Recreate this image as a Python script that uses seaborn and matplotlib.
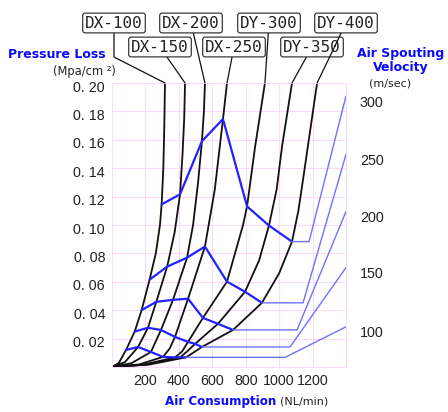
import numpy as np
import pandas as pd
import matplotlib
matplotlib.use("Agg")
import matplotlib.pyplot as plt
import matplotlib.transforms as mtransforms
import seaborn as sns

models = ["DX-100", "DX-150", "DX-200", "DX-250", "DY-300", "DY-350", "DY-400"]

# air consumption (NL/min) / pressure loss (MPa/cm2)
dx100_q = [0, 42, 84, 136, 177, 225, 262, 287, 297, 307, 313, 317]
dx100_p = [0, 0.003, 0.012, 0.025, 0.040, 0.0615, 0.080, 0.100, 0.1145, 0.140, 0.170, 0.200]
dx150_q = [0, 78, 156, 215, 265, 330, 375, 407, 422, 432, 437]
dx150_p = [0, 0.0035, 0.0141, 0.0276, 0.0459, 0.0707, 0.095, 0.1216, 0.150, 0.175, 0.200]
dx200_q = [0, 117, 233, 293, 365, 449, 485, 515, 538, 550, 556]
dx200_p = [0, 0.0027, 0.0106, 0.0261, 0.0473, 0.0770, 0.100, 0.130, 0.159, 0.180, 0.200]
dx250_q = [0, 162, 305, 345, 377, 455, 556, 615, 664, 688]
dx250_p = [0, 0.0018, 0.0071, 0.013, 0.0212, 0.0481, 0.0848, 0.125, 0.1746, 0.200]
dy300_q = [0, 190, 377, 420, 455, 544, 688, 784, 808, 856, 915]
dy300_p = [0, 0.0017, 0.0068, 0.011, 0.0177, 0.0346, 0.0601, 0.100, 0.1131, 0.155, 0.200]
dy350_q = [0, 205, 407, 450, 497, 634, 796, 880, 939, 985, 1017, 1077]
dy350_p = [0, 0.0017, 0.0068, 0.011, 0.0163, 0.0304, 0.0530, 0.075, 0.0996, 0.125, 0.155, 0.200]
dy400_q = [0, 222, 443, 538, 724, 897, 1000, 1077, 1115, 1143, 1227]
dy400_p = [0, 0.0017, 0.0068, 0.0141, 0.0261, 0.0452, 0.066, 0.0883, 0.110, 0.132, 0.200]

curve_q = [dx100_q, dx150_q, dx200_q, dx250_q, dy300_q, dy350_q, dy400_q]
curve_p = [dx100_p, dx150_p, dx200_p, dx250_p, dy300_p, dy350_p, dy400_p]

# air spouting velocity (m/sec): crossing points on the seven curves
velocities = [100, 150, 200, 250, 300]
v100_q = [84, 156, 233, 305, 377, 407, 443]
v100_p = [0.012, 0.0141, 0.0106, 0.0071, 0.0068, 0.0068, 0.0068]
v150_q = [136, 215, 293, 377, 455, 497, 538]
v150_p = [0.025, 0.0276, 0.0261, 0.0212, 0.0177, 0.0163, 0.0141]
v200_q = [177, 265, 365, 455, 544, 634, 724]
v200_p = [0.040, 0.0459, 0.0473, 0.0481, 0.0346, 0.0304, 0.0261]
v250_q = [225, 330, 449, 556, 688, 796, 897]
v250_p = [0.0615, 0.0707, 0.0770, 0.0848, 0.0601, 0.0530, 0.0452]
v300_q = [297, 407, 538, 664, 808, 939, 1077]
v300_p = [0.1145, 0.1216, 0.159, 0.1746, 0.1131, 0.0996, 0.0883]
vel_q = [v100_q, v150_q, v200_q, v250_q, v300_q]
vel_p = [v100_p, v150_p, v200_p, v250_p, v300_p]
flat_end_q = [1035, 1065, 1107, 1143, 1179]
vel_end_p = [0.0283, 0.070, 0.1095, 0.1498, 0.1908]

rows = []
for m, qs, ps in zip(models, curve_q, curve_p):
    for q, p in zip(qs, ps):
        rows.append({"model": m, "Q": q, "P": p})
curves = pd.DataFrame(rows)

sns.set_style("white")
plt.rcParams["font.family"] = ["DejaVu Sans"]

fig = plt.figure(figsize=(4.48, 4.12), dpi=100)
ax = fig.add_axes([112 / 448, 45 / 412, 234 / 448, 284 / 412])

pink = "#fad8fa"
blue = "#2222ff"
light_blue = "#7070ff"

sns.lineplot(data=curves, x="Q", y="P", units="model", estimator=None, sort=False,
             color="#111111", lw=1.3, ax=ax)

for qs, ps, fq, ep in zip(vel_q, vel_p, flat_end_q, vel_end_p):
    sns.lineplot(x=qs, y=ps, sort=False, estimator=None, color=blue, lw=1.6, ax=ax)
    sns.lineplot(x=[qs[-1], fq, 1400], y=[ps[-1], ps[-1], ep], sort=False,
                 estimator=None, color=light_blue, lw=1.0, ax=ax)

ax.set_xlim(0, 1400)
ax.set_ylim(0, 0.20)
ax.set_xticks(range(200, 1201, 200))
ax.set_yticks(np.arange(0.02, 0.201, 0.02))
ax.set_yticklabels([f"{v:.2f}".replace(".", ". ") for v in np.arange(0.02, 0.201, 0.02)])
ax.grid(True, color=pink, lw=0.7)
for s in ax.spines.values():
    s.set_color(pink)
    s.set_linewidth(0.7)
ax.tick_params(length=0, labelsize=10.3, colors="#222222", pad=5)
ax.set_xlabel("")
ax.set_ylabel("")
for lab in ax.get_yticklabels():
    lab.set_fontfamily("Liberation Sans")
    lab.set_transform(lab.get_transform() + mtransforms.ScaledTranslation(0, -3 / 100, fig.dpi_scale_trans))
for lab in ax.get_xticklabels():
    lab.set_fontfamily("Liberation Sans")

ax2 = ax.twinx()
ax2.set_ylim(0, 0.20)
ax2.set_yticks(vel_end_p)
ax2.set_yticklabels([str(v) for v in velocities])
ax2.tick_params(length=0, labelsize=10.3, colors="#222222", pad=10)
for s in ax2.spines.values():
    s.set_visible(False)
for lab in ax2.get_yticklabels():
    lab.set_fontfamily("Liberation Sans")
    lab.set_transform(lab.get_transform() + mtransforms.ScaledTranslation(0, -5 / 100, fig.dpi_scale_trans))

# model tags
tag_pos = [(114, 389), (160, 365), (191, 389), (234, 365), (269, 389), (312, 365), (346, 389)]
tag_conn = ["angle,angleA=90,angleB=-27,rad=0"] + ["arc3,rad=0"] * 6
for m, qs, ps, (tx, ty), cs in zip(models, curve_q, curve_p, tag_pos, tag_conn):
    ax.annotate(m, xy=(qs[-1], ps[-1]), xycoords="data", xytext=(tx, ty),
                textcoords="figure pixels", ha="center", va="center",
                fontsize=11.5, family="DejaVu Sans Mono", color="#222222",
                bbox=dict(boxstyle="round,pad=0.15", fc="white", ec="#222222", lw=0.8),
                arrowprops=dict(arrowstyle="-", color="#111111", lw=0.9, shrinkA=0, shrinkB=0,
                                connectionstyle=cs),
                annotation_clip=False)

def ftext(x, y, s, **kw):
    fig.text(x / 448, 1 - y / 412, s, va="center", **kw)

ftext(57, 54, "Pressure Loss", ha="center", color="#0a0aff", fontweight="bold", fontsize=9)
ftext(84, 71, "(Mpa/cm \u00b2)", ha="center", color="#222222", fontsize=8.3)
ftext(401, 54, "Air Spouting", ha="center", color="#0a0aff", fontweight="bold", fontsize=9)
ftext(401, 68, "Velocity", ha="center", color="#0a0aff", fontweight="bold", fontsize=9)
ftext(390, 84, "(m/sec)", ha="center", color="#222222", fontsize=8)
ftext(165, 402, "Air Consumption", ha="left", color="#0a0aff", fontweight="bold", fontsize=8.6)
ftext(280, 402, "(NL/min)", ha="left", color="#222222", fontsize=8)

fig.savefig("out.png", dpi=100)
